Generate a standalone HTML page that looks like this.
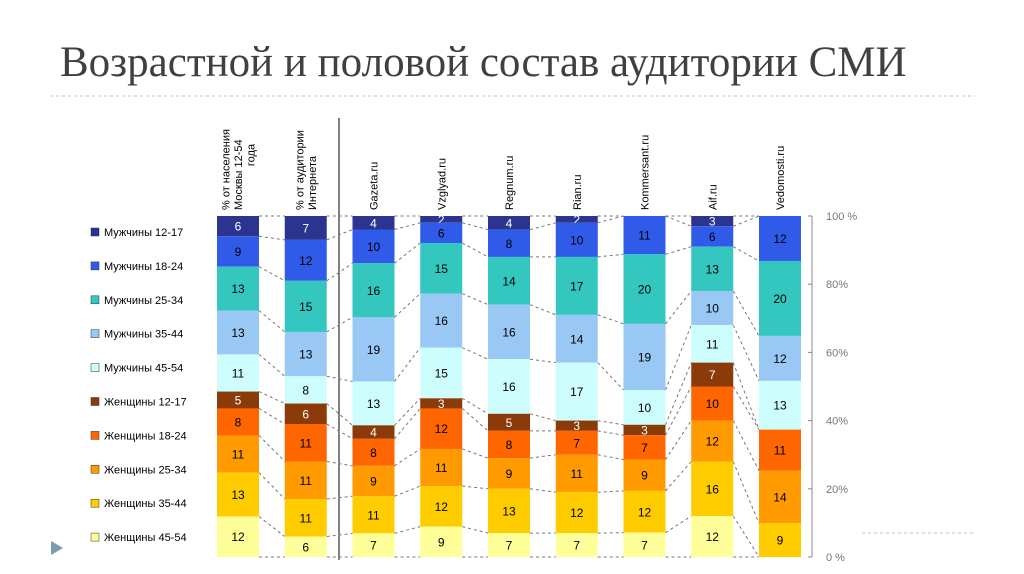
<!DOCTYPE html>
<html><head><meta charset="utf-8"><style>
body{margin:0;width:1024px;height:574px;background:#fff;overflow:hidden;font-family:"Liberation Sans",sans-serif}
#title{position:absolute;left:60px;top:38px;font-family:"Liberation Serif","DejaVu Serif",serif;font-size:43px;color:#404040;white-space:nowrap}
svg{position:absolute;left:0;top:0}
</style></head><body>
<div id="title">Возрастной и половой состав аудитории СМИ</div>
<svg id="chart" width="1024" height="574"></svg>
<script>
const categories=[["% от населения","Москвы 12-54","года"],["% от аудитории","Интернета"],["Gazeta.ru"],["Vzglyad.ru"],["Regnum.ru"],["Rian.ru"],["Kommersant.ru"],["Aif.ru"],["Vedomosti.ru"]];
const seriesNames=["Мужчины 12-17","Мужчины 18-24","Мужчины 25-34","Мужчины 35-44","Мужчины 45-54","Женщины 12-17","Женщины 18-24","Женщины 25-34","Женщины 35-44","Женщины 45-54"];
const m1217=[6,7,4,2,4,2,0,3,0];
const m1824=[9,12,10,6,8,10,11,6,12];
const m2534=[13,15,16,15,14,17,20,13,20];
const m3544=[13,13,19,16,16,14,19,10,12];
const m4554=[11,8,13,15,16,17,10,11,13];
const w1217=[5,6,4,3,5,3,3,7,0];
const w1824=[8,11,8,12,8,7,7,10,11];
const w2534=[11,11,9,11,9,11,9,12,14];
const w3544=[13,11,11,12,13,12,12,16,9];
const w4554=[12,6,7,9,7,7,7,12,0];
const yTicks=["0 %","20%","40%","60%","80%","100 %"];
const series=[m1217,m1824,m2534,m3544,m4554,w1217,w1824,w2534,w3544,w4554];
const colors=["#2b3590","#2f5be8","#33c7c0","#99c8f5","#cdfdfd","#8b3a0a","#ff6600","#ff9a00","#ffcc00","#ffff99"];
const textCol=["#fff","#000","#000","#000","#000","#fff","#000","#000","#000","#000"];
const svg=document.getElementById('chart');const NS="http://www.w3.org/2000/svg";
function mk(t,a,p){const e=document.createElementNS(NS,t);for(const k in a)e.setAttribute(k,a[k]);(p||svg).appendChild(e);return e;}
const yTop=216,yBot=557,bw=42;
const xPos=i=>238+i*67.75;
const yScale=f=>yBot-(yBot-yTop)*f;
let e=mk('line',{x1:50,y1:96,x2:975,y2:96,stroke:'#b8c4cc','stroke-dasharray':'3,3'});


e=mk('line',{x1:862,y1:533,x2:975,y2:533,stroke:'#b8c4cc','stroke-dasharray':'3,3'});


e=mk('polygon',{points:'51,541 51,555 63,548',fill:'#7a9bb0'});


e=mk('line',{x1:339,y1:118,x2:339,y2:560,stroke:'#000','stroke-width':1});


seriesNames.forEach((n,i)=>{const y=232+i*33.9;
 e=mk('rect',{x:91,y:y-4,width:8,height:8,fill:colors[i],stroke:'#333','stroke-width':0.5});
 
 
 e=mk('text',{x:104,y:y+4,'font-size':11,fill:'#000'});e.textContent=n;
 
 });
e=mk('line',{x1:812,y1:yTop,x2:812,y2:yBot,stroke:'#888'});


yTicks.forEach((t,i)=>{const y=yScale(i/5);
 mk('line',{x1:808,y1:y,x2:812,y2:y,stroke:'#888'});
 e=mk('text',{x:826,y:y+4,'font-size':11,fill:'#777'});e.textContent=t;
 
 });
const bounds=categories.map((c,j)=>{const tot=series.reduce((s,a)=>s+a[j],0);let acc=0;const b=[yTop];
 series.forEach(a=>{acc+=a[j];b.push(yScale(1-acc/tot));});return b;});
for(let j=0;j<categories.length-1;j++){for(let k=1;k<series.length;k++){
 e=mk('line',{x1:xPos(j)+bw/2,y1:bounds[j][k],x2:xPos(j+1)-bw/2,y2:bounds[j+1][k],stroke:'#777','stroke-dasharray':'3,3','stroke-width':1});
 
 }}
[yTop,yBot].forEach(y=>{for(let j=0;j<categories.length-1;j++){mk('line',{x1:xPos(j)+bw/2,y1:y,x2:xPos(j+1)-bw/2,y2:y,stroke:'#777','stroke-dasharray':'3,3'});}});
categories.forEach((c,j)=>{const x=xPos(j);
 series.forEach((a,k)=>{if(!a[j])return;const y0=bounds[j][k],y1=bounds[j][k+1];
  e=mk('rect',{x:x-bw/2,y:y0,width:bw,height:y1-y0,fill:colors[k]});
  
  
  e=mk('text',{x:x,y:(y0+y1)/2+4.5,'font-size':12,'text-anchor':'middle',fill:textCol[k]});e.textContent=a[j];
  
  });
 const n=c.length;
 const g=mk('g',{transform:`translate(${x},210) rotate(-90)`});
 
 
 c.forEach((l,i)=>{const anchor=n>1&&i==n-1&&n==3?'middle':'start';
  const tx=(n==3&&i==2)?55:0;
  const t=mk('text',{x:tx,y:(i-(n-1)/2)*12.5+4,'font-size':11,fill:'#000','text-anchor':anchor},g);
  t.textContent=l;});
});
</script>
</body></html>
